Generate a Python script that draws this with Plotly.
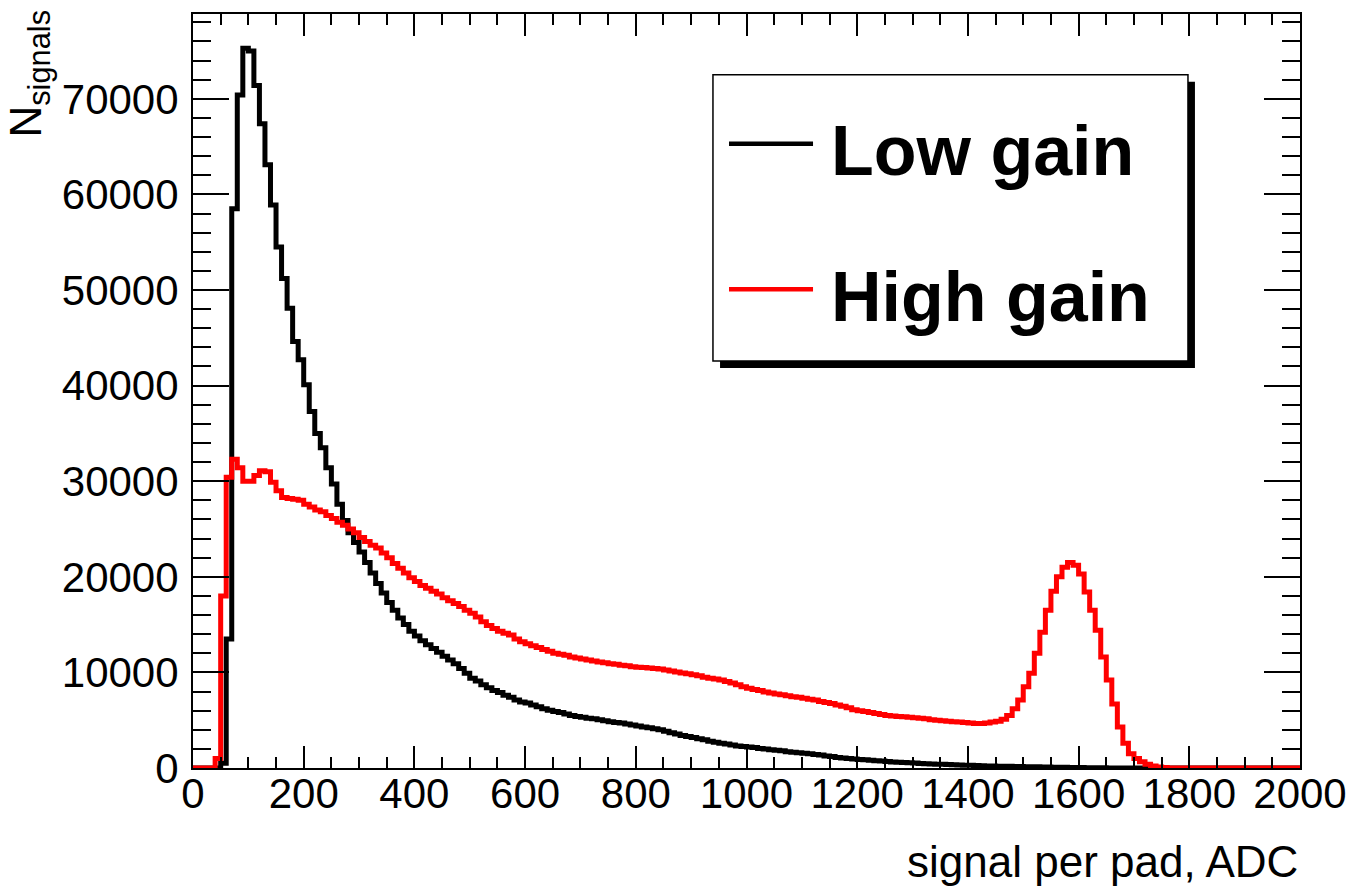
import plotly.graph_objects as go

# ---------------- data ----------------
BIN_WIDTH = 10
X_MIN, X_MAX = 0, 2000
Y_MAX = 78870

series_names = ["Low gain", "High gain"]
series_colors = ["#000000", "#ff0000"]

# counts per 10-ADC bin, bins start at 0, 10, 20, ... 1990
low_gain = [
    0, 0, 0, 0, 0, 500, 13500, 58500, 70400, 75300,                      # 0-90
    75000, 71400, 67400, 63100, 58900, 54500, 51200, 48100, 44600, 42700, # 100-190
    40100, 37300, 35000, 33500, 31400, 29700, 27600, 25900, 24600, 23600, # 200-290
    22600, 21500, 20400, 19300, 18300, 17300, 16500, 15700, 15000, 14300, # 300-390
    13800, 13300, 12900, 12500, 12100, 11700, 11300, 10900, 10400, 9900,  # 400-490
    9400, 9100, 8700, 8400, 8100, 7900, 7600, 7400, 7100, 6900,           # 500-590
    6800, 6600, 6400, 6200, 6050, 5900, 5800, 5650, 5500, 5400,           # 600-690
    5300, 5200, 5150, 5050, 4950, 4850, 4750, 4700, 4600, 4500,           # 700-790
    4400, 4300, 4200, 4100, 4000, 3850, 3700, 3550, 3400, 3300,           # 800-890
    3200, 3050, 2950, 2800, 2700, 2600, 2500, 2400, 2300, 2250,           # 900-990
    2200, 2150, 2050, 2000, 1900, 1850, 1800, 1700, 1650, 1600,           # 1000-1090
    1550, 1500, 1400, 1350, 1250, 1200, 1100, 1050, 1000, 950,            # 1100-1190
    900, 850, 800, 760, 720, 680, 640, 600, 570, 540,                     # 1200-1290
    510, 480, 450, 420, 400, 380, 360, 340, 320, 300,                     # 1300-1390
    280, 260, 240, 220, 200, 190, 180, 170, 160, 150,                     # 1400-1490
    140, 130, 120, 110, 100, 90, 80, 70, 60, 50,                          # 1500-1590
    40, 30, 25, 20, 15, 10, 8, 6, 4, 2,                                   # 1600-1690
    0, 0, 0, 0, 0, 0, 0, 0, 0, 0,                                         # 1700-1790
    0, 0, 0, 0, 0, 0, 0, 0, 0, 0,                                         # 1800-1890
    0, 0, 0, 0, 0, 0, 0, 0, 0, 0,                                         # 1900-1990
]

high_gain = [
    0, 0, 0, 0, 1000, 18000, 30400, 32300, 31400, 30000,                  # 0-90
    30000, 30600, 31100, 31000, 29900, 29000, 28300, 28200, 28100, 28000, # 100-190
    27600, 27300, 27000, 26800, 26400, 26100, 25700, 25400, 25000, 24600, # 200-290
    24100, 23700, 23300, 23000, 22500, 22000, 21400, 20900, 20400, 19900, # 300-390
    19500, 19100, 18800, 18500, 18200, 17800, 17500, 17200, 16900, 16500, # 400-490
    16200, 15800, 15300, 14900, 14600, 14300, 14100, 13900, 13500, 13200, # 500-590
    13000, 12800, 12600, 12400, 12200, 12000, 11900, 11800, 11600, 11500, # 600-690
    11400, 11300, 11200, 11100, 11000, 10900, 10850, 10750, 10700, 10600, # 700-790
    10550, 10500, 10450, 10400, 10350, 10250, 10150, 10050, 9950, 9850,   # 800-890
    9750, 9650, 9500, 9400, 9300, 9200, 9050, 8900, 8700, 8500,           # 900-990
    8350, 8200, 8100, 7950, 7850, 7750, 7650, 7550, 7450, 7400,           # 1000-1090
    7300, 7200, 7100, 6950, 6850, 6750, 6600, 6450, 6300, 6100,           # 1100-1190
    6000, 5900, 5800, 5700, 5600, 5500, 5450, 5400, 5350, 5300,           # 1200-1290
    5250, 5200, 5150, 5050, 5000, 4950, 4900, 4850, 4800, 4750,           # 1300-1390
    4700, 4650, 4650, 4700, 4800, 4900, 5100, 5500, 6200, 7100,           # 1400-1490
    8500, 9900, 12000, 14200, 16500, 18500, 20000, 21000, 21500, 21200,   # 1500-1590
    20300, 18400, 16500, 14400, 11600, 9200, 6700, 4300, 2600, 1500,      # 1600-1690
    1000, 650, 400, 200, 100, 50, 0, 0, 0, 0,                             # 1700-1790
    0, 0, 0, 0, 0, 0, 0, 0, 0, 0,                                         # 1800-1890
    0, 0, 0, 0, 0, 0, 0, 0, 0, 0,                                         # 1900-1990
]

x_tick_vals = [0, 200, 400, 600, 800, 1000, 1200, 1400, 1600, 1800, 2000]
y_tick_vals = [0, 10000, 20000, 30000, 40000, 50000, 60000, 70000]

x_title = "signal per pad, ADC"
y_title = "N<sub>signals</sub>"

# ---------------- figure ----------------
n_bins = len(low_gain)
edges = [X_MIN + i * BIN_WIDTH for i in range(n_bins + 1)]

fig = go.Figure()
for name, color, vals in zip(series_names, series_colors, [low_gain, high_gain]):
    fig.add_trace(go.Scatter(
        x=edges, y=list(vals) + [vals[-1]], mode="lines", name=name,
        line=dict(color=color, width=5, shape="hv"), showlegend=False,
        cliponaxis=True,
    ))

FONT = "Liberation Sans, Arial, Helvetica, sans-serif"

# the page body adds an 8px offset, so margins are shifted to compensate
fig.update_layout(
    width=1354, height=896,
    margin=dict(l=185, r=62, t=4, b=136),
    paper_bgcolor="white", plot_bgcolor="white",
    font=dict(family=FONT, color="black"),
    showlegend=False,
)

fig.update_xaxes(
    range=[X_MIN, X_MAX], tickmode="array", tickvals=x_tick_vals,
    ticktext=[str(v) for v in x_tick_vals],
    ticks="inside", ticklen=22, tickwidth=1.5, tickcolor="black",
    showline=True, linecolor="black", linewidth=2, mirror="ticks",
    showgrid=False, zeroline=False,
    tickfont=dict(size=42, family=FONT, color="black"),
    ticklabelstandoff=-12,
    minor=dict(dtick=50, tick0=0, ticks="inside", ticklen=11, tickwidth=1.5,
               tickcolor="black", showgrid=False),
)
fig.update_yaxes(
    range=[0, Y_MAX], tickmode="array", tickvals=y_tick_vals,
    ticktext=[str(v) for v in y_tick_vals],
    ticks="inside", ticklen=36, tickwidth=1.5, tickcolor="black",
    showline=True, linecolor="black", linewidth=2, mirror="ticks",
    showgrid=False, zeroline=False,
    tickfont=dict(size=42, family=FONT, color="black"),
    ticklabelstandoff=4,
    minor=dict(dtick=2000, tick0=0, ticks="inside", ticklen=18, tickwidth=1.5,
               tickcolor="black", showgrid=False),
)

# axis titles
fig.add_annotation(text=x_title, xref="paper", yref="paper", x=1.0, y=-0.1245,
                   xanchor="right", yanchor="middle", showarrow=False,
                   font=dict(size=44, family=FONT, color="black"))
fig.add_annotation(text=y_title, xref="paper", yref="paper", x=-0.1485, y=1.008,
                   xanchor="center", yanchor="top", textangle=-90, showarrow=False,
                   font=dict(size=44, family=FONT, color="black"))

# legend box (ROOT-style with shadow)
fig.add_shape(type="rect", xref="paper", yref="paper", x0=0.4761, x1=0.9051,
              y0=0.5304, y1=0.9101, fillcolor="black", line=dict(width=0),
              layer="above")
fig.add_shape(type="rect", xref="paper", yref="paper", x0=0.4697, x1=0.8988,
              y0=0.5397, y1=0.9193, fillcolor="white",
              line=dict(color="black", width=1.5), layer="above")
legend_rows_y = [0.8280, 0.6349]
for name, color, ly in zip(series_names, series_colors, legend_rows_y):
    fig.add_shape(type="line", xref="paper", yref="paper", x0=0.4842, x1=0.5601,
                  y0=ly, y1=ly, line=dict(color=color, width=4.5), layer="above")
    fig.add_annotation(text=name, xref="paper", yref="paper", x=0.5745,
                       y=ly - 0.01, xanchor="left", yanchor="middle",
                       showarrow=False,
                       font=dict(size=70, family=FONT, color="black",
                                 weight="bold"))

fig.write_html("out.html")
